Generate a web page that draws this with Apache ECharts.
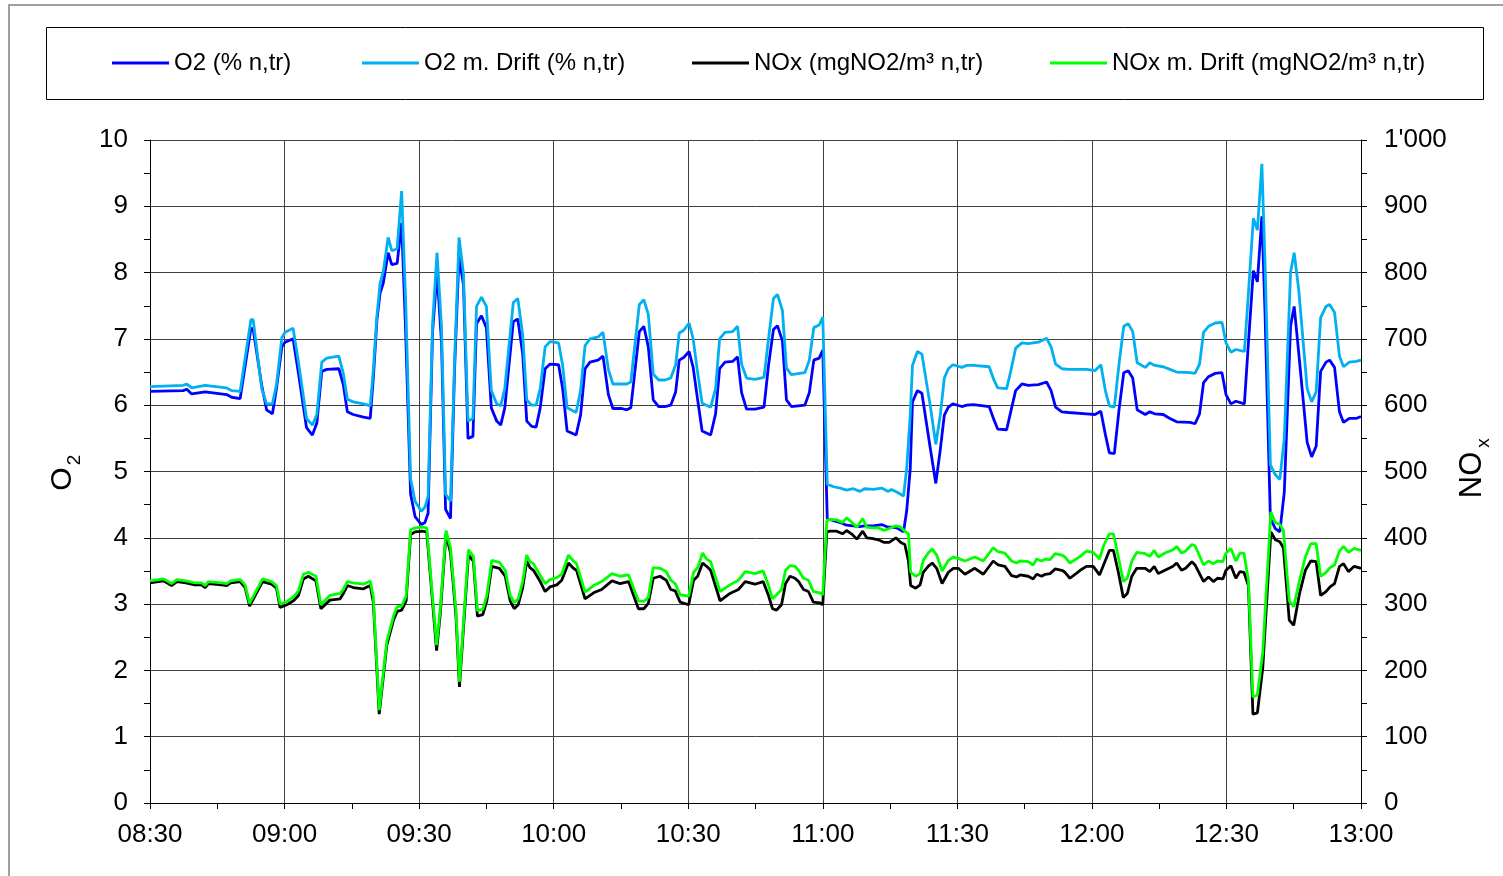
<!DOCTYPE html>
<html><head><meta charset="utf-8">
<script src="https://cdn.jsdelivr.net/npm/echarts@6/dist/echarts.min.js"></script>
<style>html,body{margin:0;padding:0;background:#fff}#c{width:1503px;height:876px}</style>
</head><body><div id="c"></div>
<script>
// time in minutes after 08:30
const xTicks = ['08:30','09:00','09:30','10:00','10:30','11:00','11:30','12:00','12:30','13:00'];
const o2Times = [0,7.4,8.2,9.3,12.3,17.1,18.2,20.1,22.5,23,24.9,26,27.3,28.2,29.4,30.1,31.9,33.1,34.9,36.2,37.2,38.3,39.4,42.1,
43.1,44,45.3,47.6,49.1,49.8,50.6,51.3,52,53.1,53.9,55.1,56.1,57,58.1,59.1,60.5,61.3,62,63,64,65,65.9,67,67.9,68.9,69.9,70.9,72,72.8,73.9,75,76.1,77.3,78.2,79.1,81,82,83.1,84,85.1,86.1,87,
88.1,89.2,91.1,92,93,95,96,97,98.1,99.9,101,102.2,103.2,105.2,106.3,107.2,109.1,110.1,111.1,112.2,113.4,114.8,116.1,117.2,118,119,120.2,121.1,122,123.1,125,126.1,127,128.2,129.9,131,131.9,133,
134.9,136.9,137.9,139,139.9,141,141.9,143,146,147,148,149.2,150,151,152.4,153.9,155.3,156.8,158.3,159.3,161.3,163.1,164.6,165.3,166.5,168,168.7,169.5,170,171.1,172.1,173.9,175.2,176.2,177.1,
178,179,181,182.1,183.6,187.1,188.1,189,191,191.9,193,194.4,195.8,198.1,199.9,200.9,201.9,203.3,204.8,208.8,210.7,212,213,213.9,215,216.1,217.1,218.1,219.1,220.1,
221.9,222.9,224,225.9,227.4,228.9,231.9,233,234,234.9,236,237.5,239,239.9,241,242.1,244,244.9,246,246.9,247.9,248.6,249.8,250.9,251.9,252.9,254.3,255.1,256.1,258,259,260,261,262.2,263,264.1,265.2,266.1,267.4,268.9,270];
const o2 = [6.21,6.22,6.24,6.17,6.2,6.16,6.12,6.1,7.16,7.15,6.3,5.93,5.87,6.25,6.88,6.95,7.0,6.48,5.66,5.55,5.73,6.51,6.54,6.55,
6.31,5.9,5.86,5.82,5.8,6.42,7.29,7.69,7.84,8.3,8.12,8.14,8.75,7.11,4.66,4.32,4.2,4.23,4.37,7.11,8.0,6.94,4.43,4.29,6.54,8.25,7.81,5.5,5.53,7.23,7.35,7.17,5.96,5.76,5.7,5.96,7.26,7.3,6.77,5.76,5.68,5.67,5.96,
6.55,6.62,6.61,6.25,5.61,5.55,5.85,6.55,6.65,6.68,6.74,6.16,5.95,5.95,5.93,5.96,7.11,7.19,6.88,6.08,5.98,5.98,6.0,6.2,6.68,6.72,6.81,6.57,6.13,5.61,5.55,5.87,6.55,6.65,6.66,6.73,6.19,5.94,
5.94,5.97,6.6,7.14,7.2,6.97,6.08,5.98,6.0,6.19,6.68,6.71,6.83,4.29,4.26,4.23,4.19,4.18,4.17,4.18,4.18,4.2,4.16,4.16,4.15,4.09,4.4,5.04,6.05,6.22,6.18,5.38,4.82,5.33,5.85,
5.97,6.02,5.98,6.0,6.01,5.98,5.79,5.64,5.63,5.9,6.22,6.32,6.3,6.31,6.35,6.22,5.97,5.9,5.89,5.87,5.86,5.91,5.56,5.28,5.27,5.96,6.49,6.52,6.41,5.93,
5.86,5.9,5.87,5.86,5.8,5.75,5.74,5.72,5.87,6.34,6.43,6.48,6.49,6.16,6.02,6.06,6.02,6.94,8.03,7.86,8.85,7.4,4.29,4.14,4.09,4.69,7.2,7.49,6.8,5.44,5.22,5.38,6.51,6.65,6.68,6.57,5.9,5.74,5.8,5.8,5.83];
const o2Drift = [6.28,6.30,6.32,6.26,6.3,6.26,6.22,6.21,7.29,7.29,6.25,6.02,6.02,6.31,7.02,7.1,7.16,6.65,5.8,5.7,5.86,6.65,6.71,6.74,
6.48,6.09,6.05,6.02,5.99,6.54,7.35,7.84,8.01,8.53,8.33,8.36,9.23,7.58,4.89,4.55,4.4,4.46,4.63,7.23,8.3,7.17,4.66,4.55,6.65,8.53,7.98,5.76,5.8,7.49,7.63,7.49,6.22,6.02,5.99,6.25,7.55,7.61,7.06,6.08,6.0,6.0,6.25,
6.88,6.96,6.94,6.6,5.96,5.89,6.22,6.9,7.0,7.03,7.1,6.54,6.32,6.32,6.32,6.35,7.52,7.59,7.37,6.47,6.38,6.38,6.41,6.61,7.09,7.13,7.24,7.0,6.54,6.03,5.97,6.25,7.0,7.1,7.11,7.19,6.62,6.41,
6.39,6.42,7.0,7.61,7.67,7.43,6.56,6.46,6.49,6.68,7.17,7.21,7.33,4.81,4.77,4.75,4.72,4.74,4.7,4.74,4.73,4.75,4.7,4.73,4.69,4.63,5.04,5.85,6.6,6.81,6.77,6.02,5.41,5.85,6.41,
6.55,6.61,6.57,6.6,6.6,6.58,6.39,6.26,6.25,6.51,6.86,6.94,6.93,6.95,7.01,6.88,6.62,6.55,6.54,6.54,6.52,6.61,6.22,5.99,5.97,6.65,7.19,7.23,7.11,6.64,
6.57,6.64,6.6,6.58,6.54,6.5,6.49,6.48,6.62,7.1,7.19,7.24,7.25,6.94,6.8,6.84,6.81,7.69,8.82,8.64,9.64,8.15,5.1,4.95,4.88,5.5,8.01,8.3,7.75,6.25,6.05,6.2,7.32,7.49,7.52,7.4,6.74,6.58,6.65,6.66,6.68];

const noxTimes = [0,3,4.8,6,8,10,11.5,12.3,13,16,17.1,18,20.1,21.2,22.2,25.1,27.1,28.2,29,30.5,32,33.1,34.2,35.3,37,38.1,40.1,42.4,
43.1,44.0,45.3,47.6,49.1,49.8,51.1,52.8,54.3,55.1,56.1,57.1,58.1,59.1,60.6,61.7,63.9,64.7,66.0,67.0,68.2,69.0,71.0,72.1,73.0,74.2,75.1,76.2,77.9,79.2,80.3,81.2,82.1,83.1,84.0,84.7,85.5,87.0,
88.1,89.2,90.7,91.8,93.3,94.4,95.1,97.0,98.9,100.7,103.0,104.8,106.7,108.9,110.1,111.1,112.2,113.7,115.1,116.1,117.1,118.2,120.1,121.2,122.1,123.2,124.1,125.0,127.1,129.3,131.2,132.7,
134.9,136.7,137.9,138.8,139.7,140.8,141.7,142.7,143.8,144.6,145.7,146.8,147.9,149.4,150.0,150.9,151.6,153.1,154.4,155.3,156.4,157.6,158.9,159.8,160.9,162.4,163.7,164.8,166.3,167.4,168.3,169.1,169.6,170.7,171.7,172.4,173.5,174.4,175.4,176.6,
178.0,179.1,180.2,181.7,183.9,185.8,188.0,189.1,190.6,192.1,193.2,194.0,195.8,196.9,197.7,198.8,199.6,200.7,201.8,203.3,204.0,205.1,207.4,208.8,210.3,211.7,212.6,213.9,214.8,215.9,217.0,217.9,218.9,220.0,
221.9,222.9,223.9,224.8,226.3,228.1,228.9,230.0,230.9,232.3,233.0,234.9,236.0,237.1,238.0,239.2,239.9,241.0,242.1,243.0,243.9,244.9,245.9,246.9,248.1,249.9,250.9,251.9,252.7,254.0,255.0,256.3,257.6,258.8,260.0,261.0,262.2,263.1,264.1,265.2,266.1,267.2,268.5,270.0];
const nox = [332,335,328,334,332,329,329,325,331,329,328,332,334,325,297,334,330,324,295,299,305,313,338,342,335,293,306,308,
316,328,325,323,328,302,134,238,276,289,291,305,405,409,410,409,230,284,406,377,284,175,374,365,282,284,305,357,354,342,305,293,299,325,365,355,351,334,
319,326,329,336,362,354,351,308,317,322,335,331,334,293,293,301,339,342,336,322,320,303,299,336,342,362,357,351,305,316,322,334,
330,334,313,293,291,299,331,342,339,334,322,319,303,302,299,409,410,410,406,411,406,398,410,400,399,397,393,393,400,393,390,365,328,324,329,348,357,362,354,331,
348,354,354,345,354,345,365,359,357,343,341,344,342,338,345,342,345,346,353,351,348,339,351,357,357,344,359,381,381,348,310,316,342,354,
354,349,357,346,351,357,362,351,354,364,359,334,341,334,339,338,351,358,339,349,348,328,134,136,204,409,397,394,385,276,268,316,351,365,364,313,319,326,331,357,361,349,357,354];
const noxDrift = [335,338,331,337,335,332,332,328,334,332,331,335,337,329,301,338,334,328,300,304,311,320,345,348,342,299,313,316,
322,334,332,330,335,310,140,244,282,296,297,312,412,415,416,415,238,292,411,385,292,183,382,372,290,292,313,366,363,351,313,302,308,334,374,364,361,343,
331,337,340,345,374,365,361,318,328,334,346,342,344,305,304,310,355,354,349,336,331,314,312,348,355,377,368,364,319,329,336,349,
346,350,328,308,314,322,351,358,357,351,339,336,319,317,314,426,428,427,423,430,424,416,429,416,415,415,411,414,418,416,410,406,348,342,346,366,377,383,374,350,
366,371,369,365,371,365,385,379,377,365,362,365,364,359,368,365,368,367,376,374,371,362,372,380,378,368,388,406,406,371,334,339,365,378,
376,372,381,371,377,382,387,377,380,390,388,359,365,361,365,364,377,384,365,377,377,336,160,163,227,439,423,420,411,305,296,336,371,391,391,342,348,355,359,380,387,378,384,381];

const names = ['O2 (% n,tr)','O2 m. Drift (% n,tr)','NOx (mgNO2/m³ n,tr)','NOx m. Drift (mgNO2/m³ n,tr)'];
const colors = ['#0000ff','#00b0f0','#000000','#00ff00'];

if (o2.length!==o2Times.length || o2Drift.length!==o2Times.length) throw new Error('o2 len '+o2Times.length+' '+o2.length+' '+o2Drift.length);
if (nox.length!==noxTimes.length || noxDrift.length!==noxTimes.length) throw new Error('nox len '+noxTimes.length+' '+nox.length+' '+noxDrift.length);

const pair = (ts, vs) => ts.map((t,i)=>[t, vs[i]]);
const FF = 'Liberation Sans, Arial, sans-serif';
const chart = echarts.init(document.getElementById('c'), null, {renderer:'canvas'});
const legendLefts = [112, 362, 692, 1050];
const gridColor = '#404040';
chart.setOption({
  animation:false,
  backgroundColor:'#fff',
  grid:{left:150, right:142, top:140, bottom:73, containLabel:false},
  legend: names.map((n,i)=>({
    data:[n], left:legendLefts[i], top:51, padding:0, selectedMode:false,
    icon:'rect', itemWidth:57, itemHeight:3,
    itemStyle:{color:colors[i]},
    textStyle:{fontFamily:FF, fontSize:24, color:'#000', lineHeight:24}
  })),
  xAxis:{type:'value', min:0, max:270, interval:30,
    axisLine:{lineStyle:{color:'#000', width:1}},
    axisTick:{show:true, length:6, lineStyle:{color:'#000'}},
    minorTick:{show:true, splitNumber:2, length:6, lineStyle:{color:'#000'}},
    splitLine:{show:true, lineStyle:{color:gridColor, width:1}},
    axisLabel:{fontFamily:FF, fontSize:26, color:'#000', margin:19,
      formatter:(v)=>xTicks[Math.round(v/30)] || ''}
  },
  yAxis:[
    {type:'value', min:0, max:10, interval:1, position:'left',
      axisLine:{show:true, lineStyle:{color:'#000'}},
      axisTick:{show:true, length:6, lineStyle:{color:'#000'}},
      minorTick:{show:true, splitNumber:2, length:6, lineStyle:{color:'#000'}},
      splitLine:{show:true, lineStyle:{color:gridColor, width:1}},
      axisLabel:{fontFamily:FF, fontSize:26, color:'#000', margin:22}
    },
    {type:'value', min:0, max:1000, interval:100, position:'right',
      axisLine:{show:true, lineStyle:{color:'#000'}},
      axisTick:{show:true, length:6, lineStyle:{color:'#000'}},
      minorTick:{show:true, splitNumber:2, length:6, lineStyle:{color:'#000'}},
      splitLine:{show:false},
      axisLabel:{fontFamily:FF, fontSize:26, color:'#000', margin:23,
        formatter:(v)=> v>=1000 ? "1'000" : String(v)}
    }
  ],
  series:[
    {name:names[0], type:'line', yAxisIndex:0, data:pair(o2Times,o2), symbol:'none', lineStyle:{width:2.8,color:colors[0]}, itemStyle:{color:colors[0]}},
    {name:names[1], type:'line', yAxisIndex:0, data:pair(o2Times,o2Drift), symbol:'none', lineStyle:{width:2.8,color:colors[1]}, itemStyle:{color:colors[1]}},
    {name:names[2], type:'line', yAxisIndex:1, data:pair(noxTimes,nox), symbol:'none', lineStyle:{width:2.8,color:colors[2]}, itemStyle:{color:colors[2]}},
    {name:names[3], type:'line', yAxisIndex:1, data:pair(noxTimes,noxDrift), symbol:'none', lineStyle:{width:2.8,color:colors[3]}, itemStyle:{color:colors[3]}}
  ],
  graphic:[
    {type:'rect', shape:{x:9, y:5, width:1600, height:1000}, style:{fill:'none', stroke:'#808080', lineWidth:1.5}, silent:true, z:-1},
    {type:'rect', shape:{x:46.5, y:27.5, width:1437, height:72}, style:{fill:'none', stroke:'#000', lineWidth:1}, silent:true, z:-1},
    {type:'text', x:63, y:479, rotation:Math.PI/2, style:{text:'O', fontFamily:FF, fontSize:30, fill:'#000', align:'center', verticalAlign:'middle'}},
    {type:'text', x:75, y:460, rotation:Math.PI/2, style:{text:'2', fontFamily:FF, fontSize:19, fill:'#000', align:'center', verticalAlign:'middle'}},
    {type:'text', x:1472, y:475, rotation:Math.PI/2, style:{text:'NO', fontFamily:FF, fontSize:31, fill:'#000', align:'center', verticalAlign:'middle'}},
    {type:'text', x:1484, y:443, rotation:Math.PI/2, style:{text:'x', fontFamily:FF, fontSize:19, fill:'#000', align:'center', verticalAlign:'middle'}}
  ]
});
</script></body></html>
